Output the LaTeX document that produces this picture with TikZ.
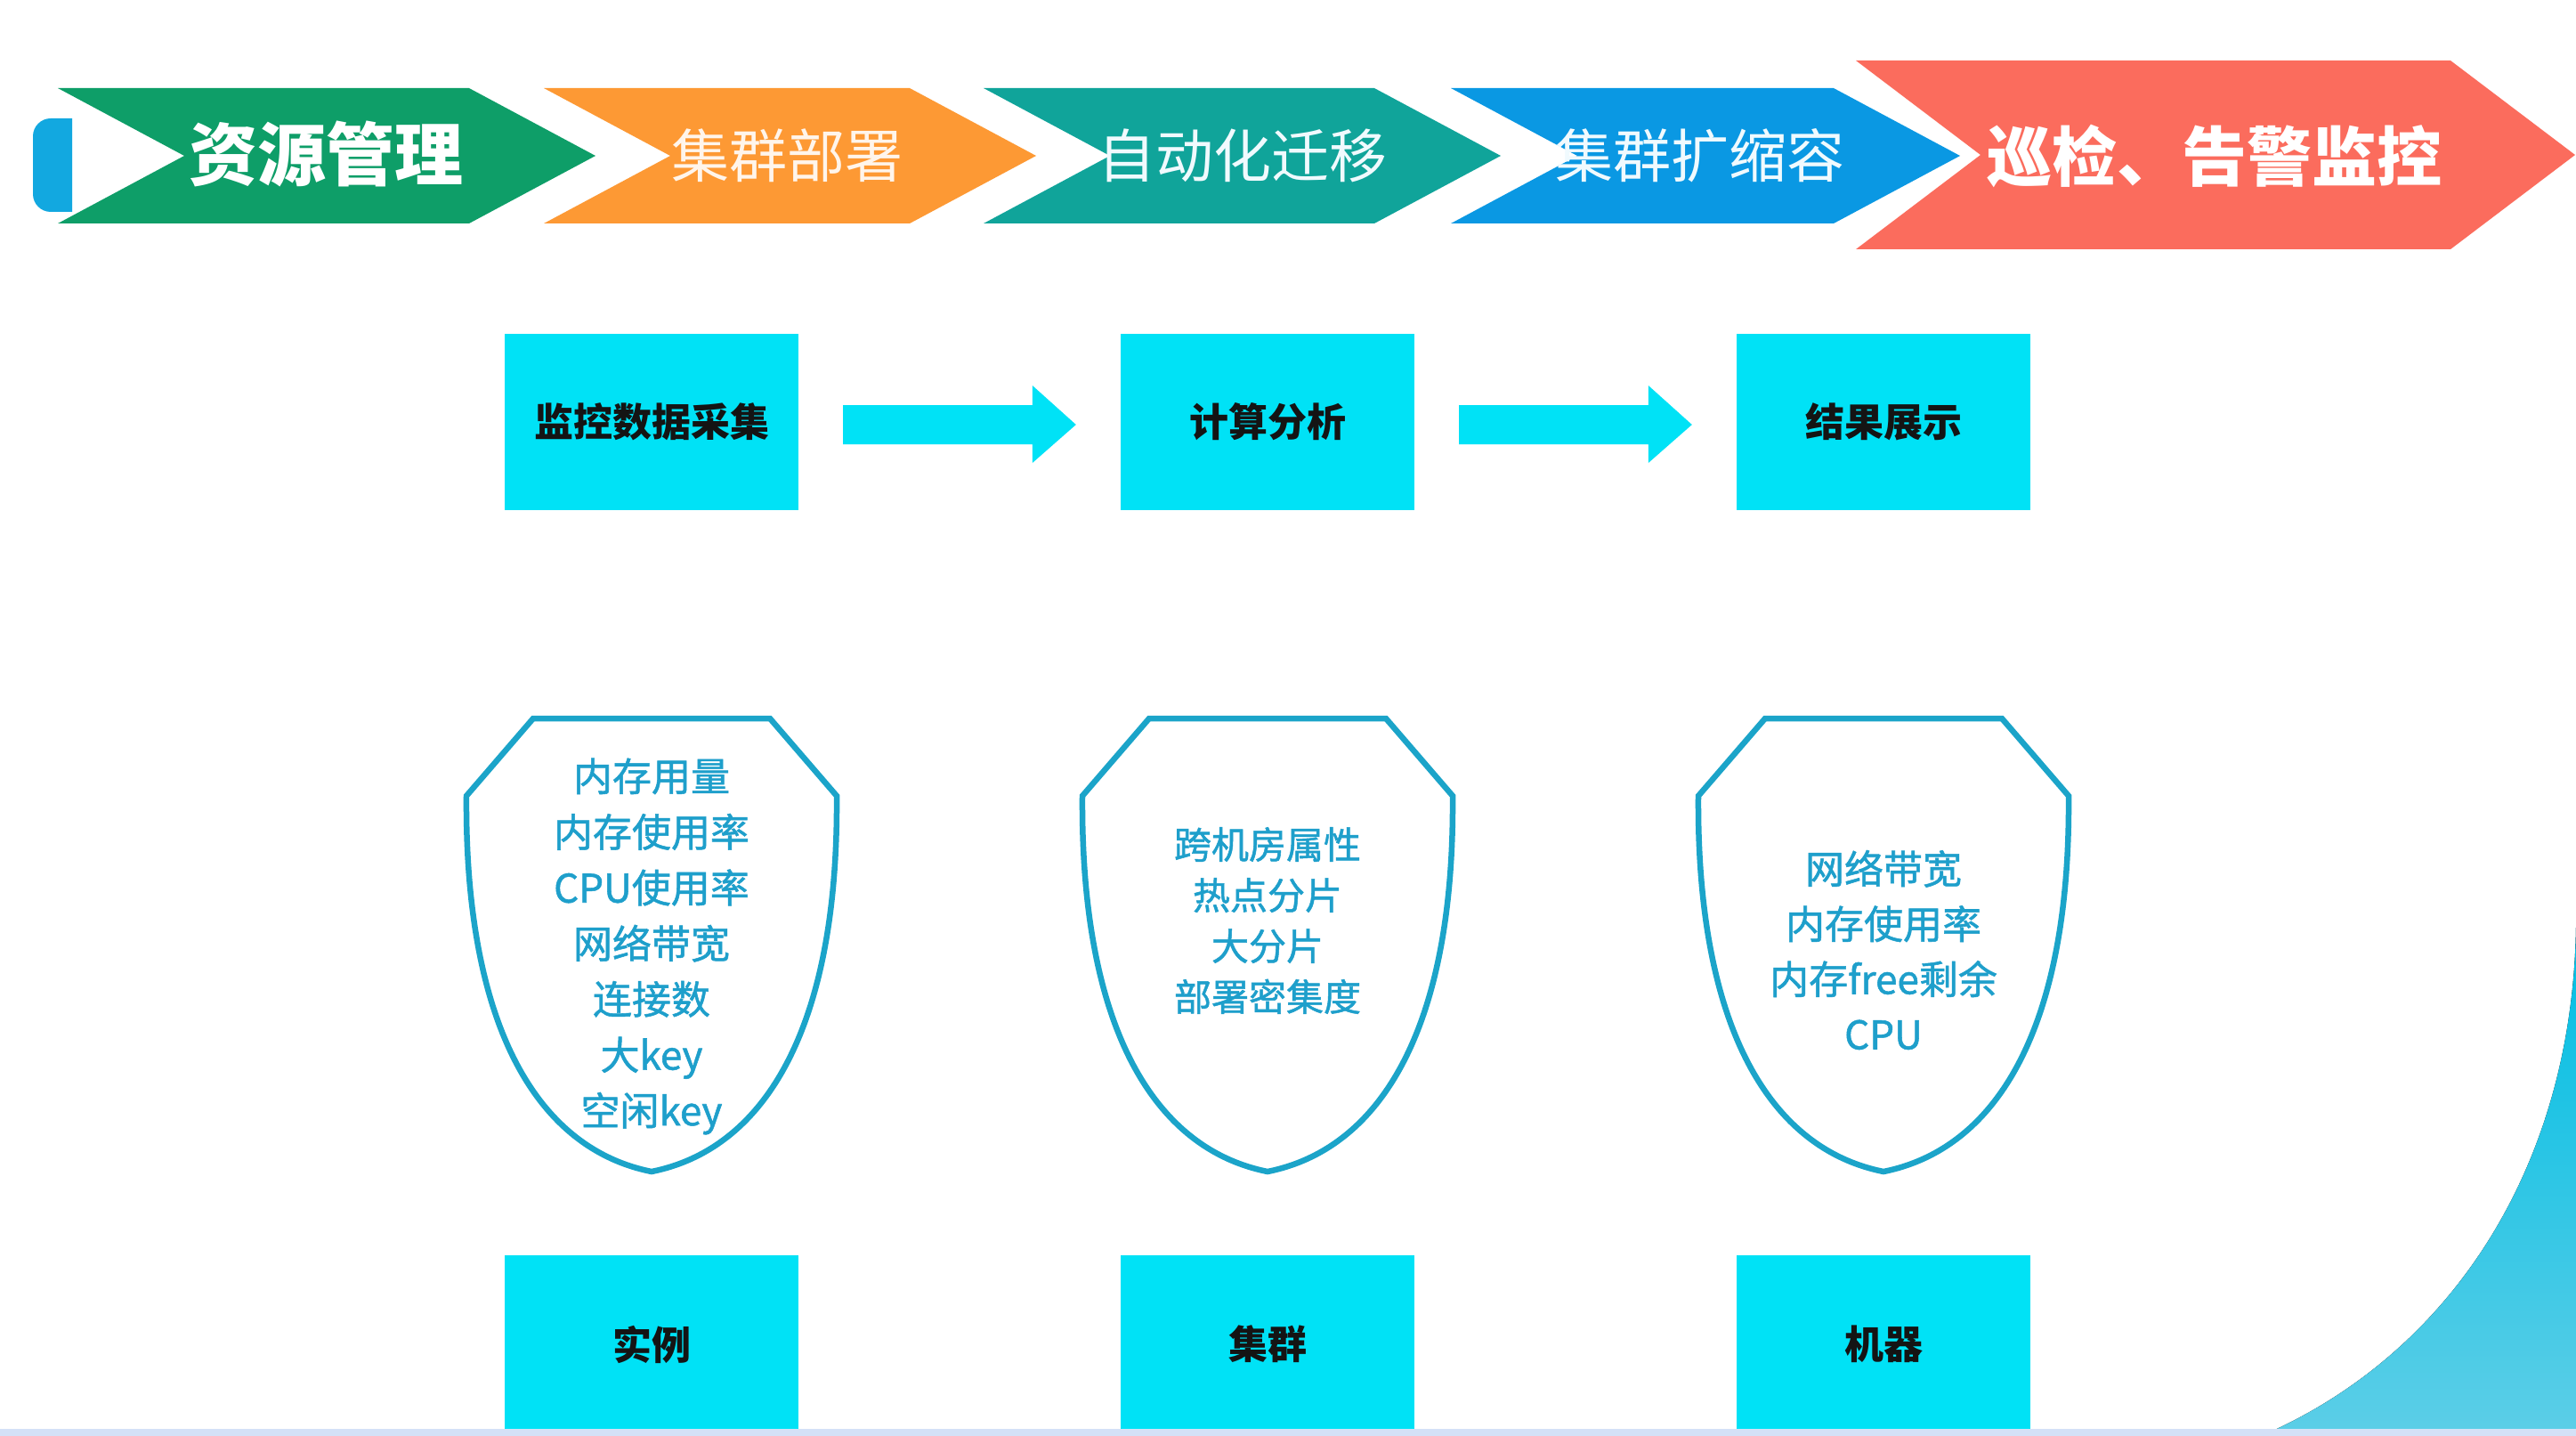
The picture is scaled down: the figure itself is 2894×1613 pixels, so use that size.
\documentclass[tikz,border=0pt]{standalone}
\usepackage{fontspec}
\setmainfont{Noto Sans CJK SC}
\newfontfamily\shieldfont{Noto Sans CJK SC}[FakeBold=1.2]
\usetikzlibrary{calc}
\definecolor{cgreen}{HTML}{0E9E68}
\definecolor{corange}{HTML}{FD9934}
\definecolor{cteal}{HTML}{10A49A}
\definecolor{cblue}{HTML}{0A98E3}
\definecolor{cred}{HTML}{FB6C5D}
\definecolor{cpill}{HTML}{12A8E0}
\definecolor{cbox}{HTML}{00E2F6}
\definecolor{cshield}{HTML}{1BA4C9}
\definecolor{cshieldtxt}{HTML}{1E9FCB}
\definecolor{ccornerA}{HTML}{00BEE3}
\definecolor{ccornerB}{HTML}{5CCEE7}
\definecolor{cstrip}{HTML}{D4E1F7}
\newcommand\mychevron[6]{%
  \fill[#6] (#1,#3) -- (#2,#3) -- ({#2+#5},{(#3+#4)/2}) -- (#2,#4) -- (#1,#4) -- ({#1+#5},{(#3+#4)/2}) -- cycle;}
\newcommand\myshield[1]{%
  \draw[shieldline] ({#1-133},807) -- ({#1+133},807) -- ({#1+208},894)
    .. controls ({#1+210},1150) and ({#1+130},1290) .. (#1,1316)
    .. controls ({#1-130},1290) and ({#1-210},1150) .. ({#1-208},894) -- cycle;}
\begin{document}
\begin{tikzpicture}[x=1pt,y=-1pt,
  chevtext/.style={inner sep=0pt, anchor=center},
  flowbox/.style={fill=cbox, minimum width=330pt, minimum height=198pt, inner sep=0pt,
     font=\fontsize{44}{50}\selectfont\bfseries, text=black!92},
  basebox/.style={flowbox, minimum height=200pt},
  shieldline/.style={draw=cshield, line width=6.5pt},
  shieldtext/.style={align=center, inner sep=0pt, text=cshieldtxt}
]
\useasboundingbox (0,0) rectangle (2894,1613);
\fill[white] (0,0) rectangle (2894,1613);

% bottom-right decoration
\fill[top color=ccornerA, bottom color=ccornerB]
  (2894,1040) .. controls (2890,1320) and (2745,1525) .. (2540,1613) -- (2894,1613) -- cycle;

% top banner
\fill[cpill] (81,133) [rounded corners=20pt] -- (37,133) -- (37,238) [sharp corners] -- (81,238) -- cycle;
\mychevron{65}{527}{99}{251}{142}{cgreen}
\mychevron{611}{1022}{99}{251}{142}{corange}
\mychevron{1105}{1544}{99}{251}{142}{cteal}
\mychevron{1630}{2060}{99}{251}{142}{cblue}
\mychevron{2085}{2753}{68}{280}{140}{cred}

\node[chevtext, text=white, font=\fontsize{77}{80}\selectfont\bfseries] (t1) at (366,173) {资源管理};
\node[chevtext, text=orange!8, font=\fontsize{65}{70}\selectfont] (t2) at (884,175) {集群部署};
\node[chevtext, text=cyan!6, font=\fontsize{65}{70}\selectfont] (t3) at (1396,175) {自动化迁移};
\node[chevtext, text=cyan!6, font=\fontsize{65}{70}\selectfont] (t4) at (1910,175) {集群扩缩容};
\node[chevtext, text=white, font=\fontsize{73}{80}\selectfont\bfseries] (t5) at (2488,175) {巡检、告警监控};

% flow boxes
\node[flowbox] (b1) at (732,474) {监控数据采集};
\node[flowbox] (b2) at (1424,474) {计算分析};
\node[flowbox] (b3) at (2116,474) {结果展示};

\foreach \a/\b in {b1/b2, b2/b3}{
  \fill[cbox] ($(\a.east)+(50,-19)$) -- ($(\b.west)+(-99,-19)$) -- ($(\b.west)+(-99,-41)$)
     -- ($(\b.west)+(-50,3)$) -- ($(\b.west)+(-99,46)$) -- ($(\b.west)+(-99,25)$)
     -- ($(\a.east)+(50,25)$) -- cycle;
}

% shields
\myshield{732}
\myshield{1424}
\myshield{2116}
\node[shieldtext, font=\shieldfont\fontsize{44}{62.6}\selectfont] (s1) at (732,1063)
  {内存用量\\内存使用率\\CPU使用率\\网络带宽\\连接数\\大key\\空闲key};
\node[shieldtext, font=\shieldfont\fontsize{42}{57}\selectfont] (s2) at (1424,1034)
  {跨机房属性\\热点分片\\大分片\\部署密集度};
\node[shieldtext, font=\shieldfont\fontsize{44}{62}\selectfont] (s3) at (2116,1067)
  {网络带宽\\内存使用率\\内存free剩余\\CPU};

% bottom boxes
\node[basebox] (c1) at (732,1510) {实例};
\node[basebox] (c2) at (1424,1510) {集群};
\node[basebox] (c3) at (2116,1510) {机器};

% bottom strip
\fill[cstrip] (0,1605) rectangle (2894,1613);
\end{tikzpicture}
\end{document}
